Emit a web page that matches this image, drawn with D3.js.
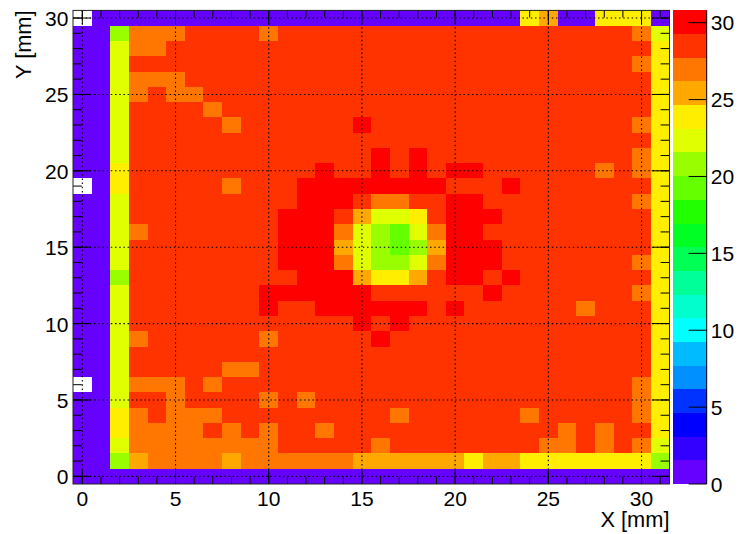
<!DOCTYPE html>
<html>
<head>
<meta charset="utf-8">
<script src="https://cdn.jsdelivr.net/npm/d3@7"></script>
<style>
html,body{margin:0;padding:0;background:#fff;}
svg{display:block;}
text{font-family:"Liberation Sans",Arial,sans-serif;fill:#000;}
</style>
</head>
<body>
<svg id="chart" width="740" height="534"></svg>
<script>
// Column (X) and row (Y) bin centres, in mm
const xBins = [0,1,2,3,4,5,6,7,8,9,10,11,12,13,14,15,16,17,18,19,20,21,22,23,24,25,26,27,28,29,30,31];
const yBins = [30,29,28,27,26,25,24,23,22,21,20,19,18,17,16,15,14,13,12,11,10,9,8,7,6,5,4,3,2,1,0];
const xTickLabels = [0,5,10,15,20,25,30];
const yTickLabels = [0,5,10,15,20,25,30];
const zTickLabels = [0,5,10,15,20,25,30];
const zMax = 30.8;
const xTitle = "X [mm]";
const yTitle = "Y [mm]";
// Colour contour bands, low to high
const bandColors = ["#6600ff","#3300ff","#0000ff","#0033ff","#0090ff","#00bbff","#00ffff","#00ffcc","#00ff99","#00ff55",
                    "#00ff22","#22ff00","#66ff00","#99ff00","#e0ff00","#ffee00","#ffa800","#ff7700","#ff3300","#ff0000"];
// Cell values, one line per row from Y=30 down to Y=0 (null = empty cell)
const zRows = [
[null,.8,.8,.8,.8,.8,.8,.8,.8,.8,.8,.8,.8,.8,.8,.8,.8,.8,.8,.8,.8,.8,.8,.8,23.9,25.4,.8,.8,23.9,23.9,23.9,.8],
[.8,.8,20.8,27,27,27,28.5,28.5,28.5,28.5,27,28.5,28.5,28.5,28.5,28.5,28.5,28.5,28.5,28.5,28.5,28.5,28.5,28.5,28.5,28.5,28.5,28.5,28.5,28.5,27,22.3],
[.8,.8,22.3,27,27,28.5,28.5,28.5,28.5,28.5,28.5,28.5,28.5,28.5,28.5,28.5,28.5,28.5,28.5,28.5,28.5,28.5,28.5,28.5,28.5,28.5,28.5,28.5,28.5,28.5,28.5,23.9],
[.8,.8,22.3,28.5,28.5,28.5,28.5,28.5,28.5,28.5,28.5,28.5,28.5,28.5,28.5,28.5,28.5,28.5,28.5,28.5,28.5,28.5,28.5,28.5,28.5,28.5,28.5,28.5,28.5,28.5,27,23.9],
[.8,.8,22.3,27,27,27,28.5,28.5,28.5,28.5,28.5,28.5,28.5,28.5,28.5,28.5,28.5,28.5,28.5,28.5,28.5,28.5,28.5,28.5,28.5,28.5,28.5,28.5,28.5,28.5,28.5,23.9],
[.8,.8,22.3,27,28.5,27,27,28.5,28.5,28.5,28.5,28.5,28.5,28.5,28.5,28.5,28.5,28.5,28.5,28.5,28.5,28.5,28.5,28.5,28.5,28.5,28.5,28.5,28.5,28.5,28.5,23.9],
[.8,.8,22.3,28.5,28.5,28.5,28.5,27,28.5,28.5,28.5,28.5,28.5,28.5,28.5,28.5,28.5,28.5,28.5,28.5,28.5,28.5,28.5,28.5,28.5,28.5,28.5,28.5,28.5,28.5,28.5,23.9],
[.8,.8,22.3,28.5,28.5,28.5,28.5,28.5,27,28.5,28.5,28.5,28.5,28.5,28.5,30,28.5,28.5,28.5,28.5,28.5,28.5,28.5,28.5,28.5,28.5,28.5,28.5,28.5,28.5,27,23.9],
[.8,.8,22.3,28.5,28.5,28.5,28.5,28.5,28.5,28.5,28.5,28.5,28.5,28.5,28.5,28.5,28.5,28.5,28.5,28.5,28.5,28.5,28.5,28.5,28.5,28.5,28.5,28.5,28.5,28.5,28.5,23.9],
[.8,.8,22.3,28.5,28.5,28.5,28.5,28.5,28.5,28.5,28.5,28.5,28.5,28.5,28.5,28.5,30,28.5,30,28.5,28.5,28.5,28.5,28.5,28.5,28.5,28.5,28.5,28.5,28.5,27,23.9],
[.8,.8,23.9,28.5,28.5,28.5,28.5,28.5,28.5,28.5,28.5,28.5,28.5,30,28.5,28.5,30,28.5,30,28.5,30,30,28.5,28.5,28.5,28.5,28.5,28.5,27,28.5,27,23.9],
[null,.8,23.9,28.5,28.5,28.5,28.5,28.5,27,28.5,28.5,28.5,30,30,30,30,30,30,30,30,28.5,28.5,28.5,30,28.5,28.5,28.5,28.5,28.5,28.5,28.5,23.9],
[.8,.8,22.3,28.5,28.5,28.5,28.5,28.5,28.5,28.5,28.5,28.5,30,30,30,28.5,27,27,28.5,28.5,30,30,28.5,28.5,28.5,28.5,28.5,28.5,28.5,28.5,27,23.9],
[.8,.8,22.3,28.5,28.5,28.5,28.5,28.5,28.5,28.5,28.5,30,30,30,28.5,25.4,22.3,22.3,23.9,28.5,30,30,30,28.5,28.5,28.5,28.5,28.5,28.5,28.5,28.5,23.9],
[.8,.8,22.3,27,28.5,28.5,28.5,28.5,28.5,28.5,28.5,30,30,30,27,22.3,20.8,19.2,22.3,27,30,30,28.5,28.5,28.5,28.5,28.5,28.5,28.5,28.5,28.5,23.9],
[.8,.8,22.3,28.5,28.5,28.5,28.5,28.5,28.5,28.5,28.5,30,30,30,25.4,22.3,20.8,19.2,20.8,25.4,30,30,30,28.5,28.5,28.5,28.5,28.5,28.5,28.5,28.5,23.9],
[.8,.8,22.3,28.5,28.5,28.5,28.5,28.5,28.5,28.5,28.5,30,30,30,27,22.3,20.8,20.8,22.3,27,30,30,30,28.5,28.5,28.5,28.5,28.5,28.5,28.5,27,23.9],
[.8,.8,20.8,28.5,28.5,28.5,28.5,28.5,28.5,28.5,28.5,28.5,30,30,30,25.4,23.9,23.9,25.4,28.5,30,30,28.5,30,28.5,28.5,28.5,28.5,28.5,28.5,28.5,23.9],
[.8,.8,22.3,28.5,28.5,28.5,28.5,28.5,28.5,28.5,30,30,30,30,30,30,28.5,28.5,28.5,28.5,28.5,28.5,30,28.5,28.5,28.5,28.5,28.5,28.5,28.5,27,23.9],
[.8,.8,22.3,28.5,28.5,28.5,28.5,28.5,28.5,28.5,30,28.5,28.5,30,30,30,30,30,30,28.5,30,28.5,28.5,28.5,28.5,28.5,28.5,27,28.5,28.5,28.5,23.9],
[.8,.8,22.3,28.5,28.5,28.5,28.5,28.5,28.5,28.5,28.5,28.5,28.5,28.5,28.5,30,28.5,30,28.5,28.5,28.5,28.5,28.5,28.5,28.5,28.5,28.5,28.5,28.5,28.5,28.5,23.9],
[.8,.8,22.3,27,28.5,28.5,28.5,28.5,28.5,28.5,27,28.5,28.5,28.5,28.5,28.5,30,28.5,28.5,28.5,28.5,28.5,28.5,28.5,28.5,28.5,28.5,28.5,28.5,28.5,28.5,23.9],
[.8,.8,22.3,28.5,28.5,28.5,28.5,28.5,28.5,28.5,28.5,28.5,28.5,28.5,28.5,28.5,28.5,28.5,28.5,28.5,28.5,28.5,28.5,28.5,28.5,28.5,28.5,28.5,28.5,28.5,28.5,23.9],
[.8,.8,22.3,28.5,28.5,28.5,28.5,28.5,27,27,28.5,28.5,28.5,28.5,28.5,28.5,28.5,28.5,28.5,28.5,28.5,28.5,28.5,28.5,28.5,28.5,28.5,28.5,28.5,28.5,28.5,23.9],
[null,.8,22.3,27,27,27,28.5,27,28.5,28.5,28.5,28.5,28.5,28.5,28.5,28.5,28.5,28.5,28.5,28.5,28.5,28.5,28.5,28.5,28.5,28.5,28.5,28.5,28.5,28.5,27,23.9],
[.8,.8,22.3,28.5,28.5,27,28.5,28.5,28.5,28.5,27,28.5,27,28.5,28.5,28.5,28.5,28.5,28.5,28.5,28.5,28.5,28.5,28.5,28.5,28.5,28.5,28.5,28.5,28.5,27,23.9],
[.8,.8,23.9,27,28.5,27,27,27,28.5,28.5,28.5,28.5,28.5,28.5,28.5,28.5,28.5,27,28.5,28.5,28.5,28.5,28.5,28.5,27,28.5,28.5,28.5,28.5,28.5,27,23.9],
[.8,.8,23.9,27,27,27,27,28.5,27,28.5,27,28.5,28.5,27,28.5,28.5,28.5,28.5,28.5,28.5,28.5,28.5,28.5,28.5,28.5,28.5,27,28.5,27,28.5,28.5,23.9],
[.8,.8,22.3,27,27,27,27,27,27,27,27,28.5,28.5,28.5,28.5,28.5,27,28.5,28.5,28.5,28.5,28.5,28.5,28.5,28.5,27,27,28.5,27,28.5,27,22.3],
[.8,.8,20.8,25.4,27,27,27,27,25.4,27,27,27,27,27,27,25.4,25.4,25.4,25.4,25.4,25.4,23.9,25.4,25.4,23.9,23.9,23.9,23.9,23.9,23.9,23.9,20.8],
[.8,.8,.8,.8,.8,.8,.8,.8,.8,.8,.8,.8,.8,.8,.8,.8,.8,.8,.8,.8,.8,.8,.8,.8,.8,.8,.8,.8,.8,.8,.8,.8]
];

const svg = d3.select("#chart");
const plot = {left:73, right:669.5, top:10.4, bottom:484};
const bar = {left:673.3, right:706.7};
const fontSize = 21;
const titleSize = 21.8;

const x = d3.scaleLinear().domain([-0.5,31.5]).range([plot.left,plot.right]);
const y = d3.scaleLinear().domain([-0.5,30.5]).range([plot.bottom,plot.top]);
const zColor = d3.scaleQuantize().domain([0,zMax]).range(bandColors);
const zAxisScale = d3.scaleLinear().domain([0,zMax]).range([plot.bottom,plot.top]);

// Heat map cells
const cells = [];
yBins.forEach((yb,i)=>xBins.forEach((xb,j)=>{
  if(zRows[i][j]!==null) cells.push({x:xb,y:yb,z:zRows[i][j]});
}));
svg.append("g").attr("shape-rendering","crispEdges").selectAll("rect").data(cells).join("rect")
  .attr("x",d=>x(d.x-0.5)).attr("width",d=>x(d.x+0.5)-x(d.x-0.5))
  .attr("y",d=>y(d.y+0.5)).attr("height",d=>y(d.y-0.5)-y(d.y+0.5))
  .attr("fill",d=>zColor(d.z));

// Dotted grid
const grid = svg.append("g").attr("fill","none").attr("stroke","#000").attr("stroke-width",1.1).attr("stroke-dasharray","1.5,2.7");
grid.selectAll(".gx").data(xTickLabels).join("line").attr("class","gx")
  .attr("x1",d=>x(d)).attr("x2",d=>x(d)).attr("y1",plot.top).attr("y2",plot.bottom);
grid.selectAll(".gy").data(yTickLabels).join("line").attr("class","gy")
  .attr("y1",d=>y(d)).attr("y2",d=>y(d)).attr("x1",plot.left).attr("x2",plot.right);

// Axes
const minorVals = d3.range(0,32);
const minorValsY = d3.range(0,31);
function styleAxis(g){
  g.select(".domain").remove();
  g.selectAll("line").attr("stroke","#000").attr("stroke-width",1);
  g.selectAll("text").style("font-size",fontSize+"px");
}
const tickOpts = a=>a.offset(0);
svg.append("g").attr("transform",`translate(0,${plot.bottom})`)
  .call(tickOpts(d3.axisBottom(x).tickValues(minorVals).tickSize(-7.1).tickFormat("")))
  .call(styleAxis);
svg.append("g").attr("transform",`translate(0,${plot.bottom})`)
  .call(tickOpts(d3.axisBottom(x).tickValues(xTickLabels).tickSize(-14.2).tickPadding(0).tickFormat(d3.format("d"))))
  .call(styleAxis)
  .call(g=>g.selectAll("text").attr("y",21.5).attr("dy",0));
svg.append("g").attr("transform",`translate(0,${plot.top})`)
  .call(tickOpts(d3.axisTop(x).tickValues(minorVals).tickSize(-7.1).tickFormat(""))).call(styleAxis);
svg.append("g").attr("transform",`translate(0,${plot.top})`)
  .call(tickOpts(d3.axisTop(x).tickValues(xTickLabels).tickSize(-14.2).tickFormat(""))).call(styleAxis);
svg.append("g").attr("transform",`translate(${plot.left},0)`)
  .call(tickOpts(d3.axisLeft(y).tickValues(minorValsY).tickSize(-8.9).tickFormat(""))).call(styleAxis);
svg.append("g").attr("transform",`translate(${plot.left},0)`)
  .call(tickOpts(d3.axisLeft(y).tickValues(yTickLabels).tickSize(-17.9).tickPadding(0).tickFormat(d3.format("d"))))
  .call(styleAxis)
  .call(g=>g.selectAll("text").attr("x",-4.7).attr("dy","0.38em"));
svg.append("g").attr("transform",`translate(${plot.right},0)`)
  .call(tickOpts(d3.axisRight(y).tickValues(minorValsY).tickSize(-8.9).tickFormat(""))).call(styleAxis);
svg.append("g").attr("transform",`translate(${plot.right},0)`)
  .call(tickOpts(d3.axisRight(y).tickValues(yTickLabels).tickSize(-17.9).tickFormat(""))).call(styleAxis);

// Frame
svg.append("rect").attr("x",plot.left).attr("y",plot.top)
  .attr("width",plot.right-plot.left).attr("height",plot.bottom-plot.top)
  .attr("fill","none").attr("stroke","#222").attr("stroke-width",1);

// Colour bar
svg.append("g").attr("shape-rendering","crispEdges").selectAll("rect").data(bandColors).join("rect")
  .attr("x",bar.left).attr("width",bar.right-bar.left)
  .attr("y",d=>zAxisScale(zColor.invertExtent(d)[1]))
  .attr("height",d=>zAxisScale(zColor.invertExtent(d)[0])-zAxisScale(zColor.invertExtent(d)[1]))
  .attr("fill",d=>d);
svg.append("g").attr("transform",`translate(${bar.right},0)`)
  .call(d3.axisRight(zAxisScale).offset(0).tickValues(zTickLabels).tickSize(-18).tickPadding(0).tickFormat(d3.format("d")))
  .call(styleAxis)
  .call(g=>g.selectAll("text").attr("x",4).attr("dy","0.36em"));
svg.append("line").attr("x1",bar.right).attr("x2",bar.right).attr("y1",plot.top).attr("y2",plot.bottom)
  .attr("stroke","#000").attr("stroke-width",1);

// Titles
svg.append("text").attr("x",plot.right).attr("y",526.7).attr("text-anchor","end")
  .style("font-size",titleSize+"px").text(xTitle);
svg.append("text").attr("transform",`translate(31,${plot.top}) rotate(-90)`).attr("text-anchor","end")
  .style("font-size",titleSize+"px").text(yTitle);
</script>
</body>
</html>
